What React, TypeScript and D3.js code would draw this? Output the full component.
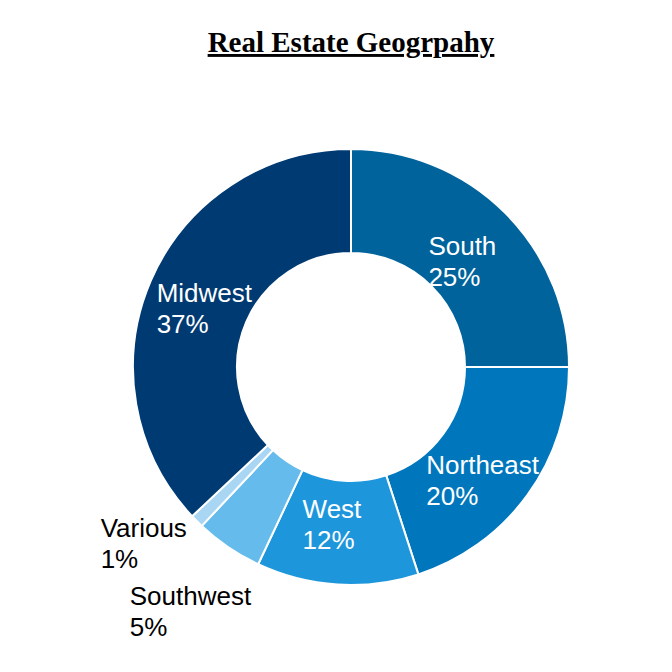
import React from "react";
import * as d3 from "d3";

const categories = ["South", "Northeast", "West", "Southwest", "Various", "Midwest"];
const values = [25, 20, 12, 5, 1, 37];
const colors = ["#00639c", "#0077bd", "#1e96dc", "#65bbec", "#a8d6f3", "#003a73"];
const labelColors = ["#ffffff", "#ffffff", "#ffffff", "#000000", "#000000", "#ffffff"];
const labelDx = [-40, -59, -38, -128, -133, -42];
const labelDy = [5, 9, -15, 101, 53, 1];

const W = 672;
const H = 672;
const cx = 351;
const cy = 367;
const outerR = 218;
const innerR = 114;

export default function App() {
  const pie = d3.pie<number>().sort(null).value((d) => d)(values);
  const arc = d3.arc<d3.PieArcDatum<number>>().innerRadius(innerR).outerRadius(outerR);
  const labelArc = d3.arc<d3.PieArcDatum<number>>().innerRadius(166).outerRadius(166);
  return (
    <svg width={W} height={H} style={{ position: "absolute", left: 0, top: 0, background: "#fff" }}>
      <text
        x={351}
        y={52}
        textAnchor="middle"
        fontFamily="'Liberation Serif', 'Times New Roman', serif"
        fontWeight="bold"
        fontSize={29}
        textDecoration="underline"
        fill="#000"
      >
        Real Estate Geogrpahy
      </text>
      <g transform={`translate(${cx},${cy})`}>
        {pie.map((p, i) => (
          <path key={i} d={arc(p) || ""} fill={colors[i]} stroke="#ffffff" strokeWidth={2} />
        ))}
        {pie.map((p, i) => {
          const [x, y] = labelArc.centroid(p);
          return (
            <text
              key={"l" + i}
              x={x + labelDx[i]}
              y={y + labelDy[i]}
              fontFamily="'Liberation Sans', Arial, sans-serif"
              fontSize={26}
              fill={labelColors[i]}
            >
              <tspan x={x + labelDx[i]}>{categories[i]}</tspan>
              <tspan x={x + labelDx[i]} dy={31}>{values[i]}%</tspan>
            </text>
          );
        })}
      </g>
    </svg>
  );
}
